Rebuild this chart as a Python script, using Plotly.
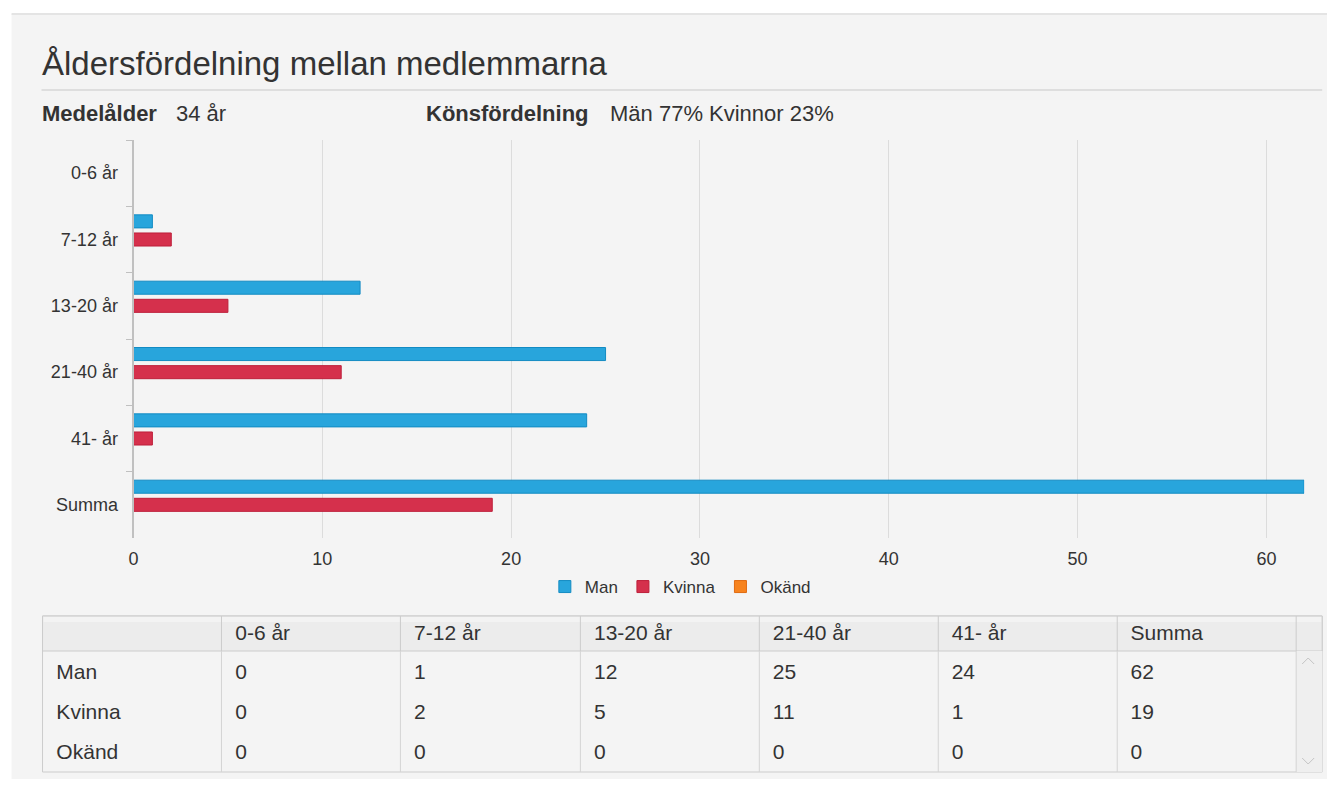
import plotly.graph_objects as go

# ---------------- data ----------------
categories = ["0-6 år", "7-12 år", "13-20 år", "21-40 år", "41- år", "Summa"]
series_names = ["Man", "Kvinna", "Okänd"]
man = [0, 1, 12, 25, 24, 62]
kvinna = [0, 2, 5, 11, 1, 19]
okand = [0, 0, 0, 0, 0, 0]
x_ticks = [0, 10, 20, 30, 40, 50, 60]
medelalder = 34
title_text = "Åldersfördelning mellan medlemmarna"

# ---------------- helpers ----------------
OFF = 8                     # default page body margin
W, H = 1335 - 2 * OFF, 787 - 2 * OFF
SX, XOFF = 0.9965, 12.5     # empirical horizontal mapping of the page
FONT = "Liberation Sans, Arial, sans-serif"
TXT = "#333333"


def px(x):
    return (x / SX - XOFF) / W


def py(y):
    return 1 - (y - OFF) / H


series_values = [man, kvinna, okand]
series_colors = ["#28a5dc", "#d5304c", "#f7831e"]
series_lines = ["#138bc3", "#bd1f3a", "#e06a10"]

total_man = man[-1]
total_kvinna = kvinna[-1]
total_all = total_man + total_kvinna + okand[-1]
pct_man = round(100 * total_man / total_all)
pct_kvinna = round(100 * total_kvinna / total_all)

fig = go.Figure()

for name, vals, col, lcol in zip(series_names, series_values, series_colors, series_lines):
    fig.add_trace(go.Bar(
        y=categories, x=vals, name=name, orientation="h",
        marker=dict(color=col, line=dict(color=lcol, width=1)),
        xaxis="x", yaxis="y",
    ))

# ---------------- table ----------------
pad = "\u00a0"
header_vals = [""] + [pad + c for c in categories] + [""]
cell_cols = [[pad + n for n in series_names]]
for i in range(len(categories)):
    cell_cols.append([pad + str(s[i]) for s in series_values])
cell_cols.append(["", "", ""])

col_edges = [42, 221, 400, 580, 759, 938, 1117, 1296, 1322]
col_widths = [b - a for a, b in zip(col_edges[:-1], col_edges[1:])]
TFONT = 21

fig.add_trace(go.Table(
    domain=dict(x=[px(42), px(1322)], y=[max(0.0, py(777)), py(616)]),
    columnwidth=col_widths,
    header=dict(values=header_vals, height=39, fill_color="rgba(0,0,0,0)",
                line=dict(color="rgba(0,0,0,0)", width=1), align="left",
                font=dict(family=FONT, size=TFONT, color=TXT)),
    cells=dict(values=cell_cols, height=40, fill_color="rgba(0,0,0,0)",
               line=dict(color="rgba(0,0,0,0)", width=1), align="left",
               font=dict(family=FONT, size=TFONT, color=TXT)),
))

# ---------------- decoration shapes ----------------
shapes = [
    dict(type="rect", xref="paper", yref="paper", x0=px(11), x1=px(1330), y0=py(800), y1=py(14),
         fillcolor="#f4f4f4", line=dict(width=0), layer="below"),
    dict(type="line", xref="paper", yref="paper", x0=px(11), x1=px(1330), y0=py(14), y1=py(14),
         line=dict(color="#e4e4e4", width=2), layer="below"),
    dict(type="line", xref="paper", yref="paper", x0=px(41), x1=px(1322), y0=py(90), y1=py(90),
         line=dict(color="#c8c8c8", width=1), layer="below"),
    # table body + header
    dict(type="rect", xref="paper", yref="paper", x0=px(42), x1=px(1322), y0=py(772), y1=py(616),
         fillcolor="#f4f4f4", line=dict(color="#cccccc", width=1), layer="below"),
    dict(type="rect", xref="paper", yref="paper", x0=px(42), x1=px(1322), y0=py(651), y1=py(616),
         fillcolor="#ececec", line=dict(color="#cccccc", width=1), layer="below"),
    dict(type="rect", xref="paper", yref="paper", x0=px(43), x1=px(1321), y0=py(622), y1=py(617),
         fillcolor="#f3f3f3", line=dict(width=0), layer="below"),
    dict(type="rect", xref="paper", yref="paper", x0=px(1296), x1=px(1322), y0=py(772), y1=py(651),
         fillcolor="#efefef", line=dict(width=0), layer="below"),
]
for xv in col_edges[1:-1]:
    shapes.append(dict(type="line", xref="paper", yref="paper", x0=px(xv), x1=px(xv),
                       y0=py(772), y1=py(651), line=dict(color="#d4d4d4", width=1), layer="below"))
    shapes.append(dict(type="line", xref="paper", yref="paper", x0=px(xv), x1=px(xv),
                       y0=py(651), y1=py(616), line=dict(color="#cccccc", width=1), layer="below"))
# scroll chevrons
shapes.append(dict(type="path", xref="paper", yref="paper",
                   path=f"M {px(1302)},{py(664)} L {px(1308)},{py(658)} L {px(1314)},{py(664)}",
                   line=dict(color="#c4c4c4", width=1)))
shapes.append(dict(type="path", xref="paper", yref="paper",
                   path=f"M {px(1302)},{py(758)} L {px(1308)},{py(764)} L {px(1314)},{py(758)}",
                   line=dict(color="#c4c4c4", width=1)))

annotations = [
    dict(text=title_text, x=px(39), y=py(64), xref="paper", yref="paper",
         xanchor="left", yanchor="middle", showarrow=False,
         font=dict(family=FONT, size=33, color=TXT)),
    dict(text="<b>Medelålder</b>", x=px(39), y=py(114), xref="paper", yref="paper",
         xanchor="left", yanchor="middle", showarrow=False,
         font=dict(family=FONT, size=22, color=TXT)),
    dict(text=f"{medelalder} år", x=px(174), y=py(114), xref="paper", yref="paper",
         xanchor="left", yanchor="middle", showarrow=False,
         font=dict(family=FONT, size=22, color=TXT)),
    dict(text="<b>Könsfördelning</b>", x=px(424), y=py(114), xref="paper", yref="paper",
         xanchor="left", yanchor="middle", showarrow=False,
         font=dict(family=FONT, size=22, color=TXT)),
    dict(text=f"Män {pct_man}% Kvinnor {pct_kvinna}%", x=px(608), y=py(114), xref="paper", yref="paper",
         xanchor="left", yanchor="middle", showarrow=False,
         font=dict(family=FONT, size=22, color=TXT)),
]

fig.update_layout(
    width=W, height=H,
    margin=dict(l=0, r=0, t=0, b=0),
    paper_bgcolor="#ffffff",
    plot_bgcolor="rgba(0,0,0,0)",
    barmode="group", bargap=0.18, bargroupgap=0.28,
    font=dict(family=FONT, color=TXT),
    xaxis=dict(domain=[px(133), px(1304)], range=[0, 62], tickvals=x_ticks,
               showgrid=True, gridcolor="#dcdcdc", gridwidth=1, zeroline=False,
               showline=False, ticks="", ticklabelstandoff=8,
               tickfont=dict(family=FONT, size=18, color=TXT), fixedrange=True),
    yaxis=dict(domain=[py(538), py(140)], type="category", categoryorder="array",
               categoryarray=categories, autorange="reversed",
               showline=True, linecolor="#c0c0c0", linewidth=2,
               ticks="outside", tickson="boundaries", ticklen=6, tickcolor="#c0c0c0",
               showgrid=False, ticklabelstandoff=10,
               tickfont=dict(family=FONT, size=18, color=TXT), fixedrange=True),
    legend=dict(orientation="h", x=px(680), y=py(587), xanchor="center", yanchor="middle",
                font=dict(family=FONT, size=17, color=TXT), bgcolor="rgba(0,0,0,0)",
                itemwidth=30),
    showlegend=True,
    shapes=shapes,
    annotations=annotations,
)

fig.write_html("out.html")
